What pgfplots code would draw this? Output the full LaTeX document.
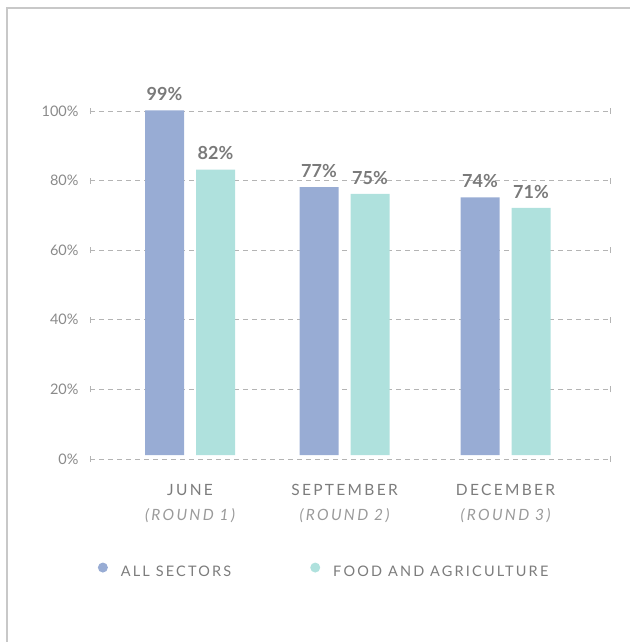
\documentclass[border=0pt]{standalone}
\usepackage{fontspec}
\setmainfont{Lato}
\newfontfamily\spaced[LetterSpace=15]{Lato}
\usepackage{pgfplots}
\pgfplotsset{compat=1.18}

\definecolor{allsec}{HTML}{98ACD4}
\definecolor{food}{HTML}{AFE1DD}
\definecolor{allsecdot}{HTML}{8EA3D3}
\definecolor{fooddot}{HTML}{9DDBD5}
\definecolor{gridgray}{HTML}{B4B4B4}
\definecolor{framegray}{HTML}{C8C8C8}
\definecolor{ticktext}{HTML}{8A8A8A}
\definecolor{cattext}{HTML}{7C7C7C}
\definecolor{subtext}{HTML}{9A9A9A}
\definecolor{valtext}{HTML}{7A7A7A}

\begin{document}
\begin{tikzpicture}
% page = 630 x 642 pt, axis box origin at (90,183) from bottom-left
\path[use as bounding box] (-90pt,-183pt) rectangle (540pt,459pt);
\draw[framegray, line width=1.5pt] (-83pt,-183pt) -- (-83pt,451pt) -- (540pt,451pt);
\begin{axis}[
  width=520pt, height=348pt, scale only axis,
  xmin=0, xmax=520, ymin=0, ymax=100,
  clip=false,
  axis line style={draw=none},
  major tick length=0pt,
  /pgf/number format/assume math mode=true,
  ytick={0,20,40,60,80,100},
  yticklabels={0\%,20\%,40\%,60\%,80\%,100\%},
  yticklabel style={font=\fontsize{14.5}{17}\selectfont, text=ticktext, xshift=-8pt},
  ymajorgrids,
  grid style={gridgray, dash pattern=on 5pt off 4pt, line width=0.8pt},
  xtick={100,254.5,415.5},
  xticklabels={
    {JUNE}\\{\color{subtext}\itshape (ROUND 1)},
    {SEPTEMBER}\\{\color{subtext}\itshape (ROUND 2)},
    {DECEMBER}\\{\color{subtext}\itshape (ROUND 3)}},
  xticklabel style={font=\fontsize{15.5}{25}\selectfont\spaced, text=cattext, align=center, yshift=-22pt},
  ybar, bar width=39,
  nodes near coords={\pgfmathprintnumber{\pgfplotspointmeta}\%},
  nodes near coords style={font=\fontsize{18}{20}\selectfont\bfseries, text=valtext, yshift=6pt},
  legend columns=2,
  legend style={at={(rel axis cs:0.009,-0.322)}, anchor=west, draw=none, fill=none,
    font=\fontsize{14.5}{17}\selectfont\spaced, text=cattext,
    /tikz/every even column/.append style={column sep=77pt},
    /tikz/every odd column/.append style={column sep=11pt}},
  legend image code/.code={\fill[#1] (4pt,0) circle (5pt);},
]
\addplot[fill=allsec, draw=none, bar shift=-25.5, yshift=4pt] coordinates {(100,99) (254.5,77) (415.5,74)};
\addlegendentry{ALL SECTORS}
\addplot[fill=food, draw=none, bar shift=25.5, yshift=4pt] coordinates {(100,82) (254.5,75) (415.5,71)};
\addlegendentry{FOOD AND AGRICULTURE}
\pgfplotsinvokeforeach{0,20,40,60,80,100}{
  \draw[gridgray, line width=0.8pt] (axis cs:0,#1) ++(0,-3pt) -- ++(0,6pt);
  \draw[gridgray, line width=0.8pt] (axis cs:520,#1) ++(0,-3pt) -- ++(0,6pt);
}
\end{axis}
\end{tikzpicture}
\end{document}
